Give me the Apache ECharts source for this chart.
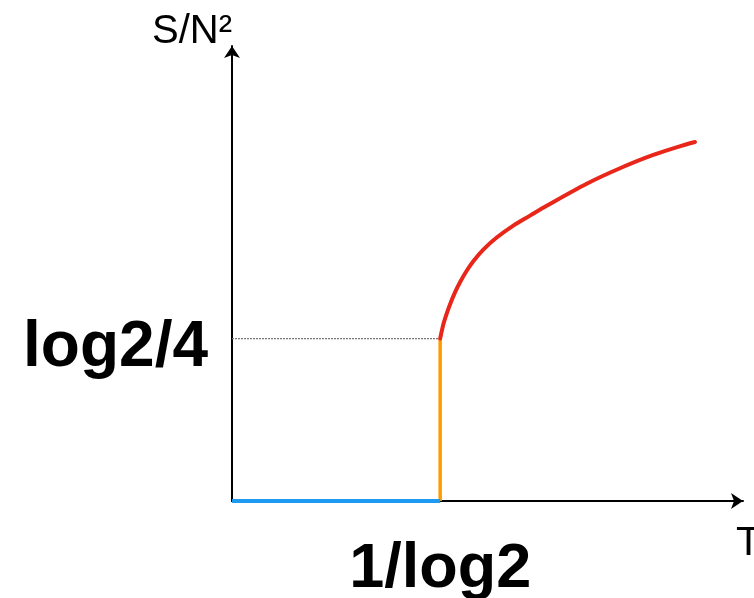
<!DOCTYPE html>
<html>
<head>
<meta charset="utf-8">
<script src="https://cdn.jsdelivr.net/npm/echarts@6/dist/echarts.min.js"></script>
<style>
  html, body { margin: 0; padding: 0; background: #fff; }
  #chart { width: 754px; height: 598px; }
</style>
</head>
<body>
<div id="chart"></div>
<script>
// Critical temperature and entropy plateau
const T_CRIT = 1 / Math.LN2;      // 1/log2
const S_CRIT = Math.LN2 / 4;      // log2/4

const X_MAX = 3.5416;
const Y_MAX = 0.48533;

// Low-temperature branch: S/N^2 = 0
const lowBranch = [[0, 0], [T_CRIT, 0]];
// Jump at the critical temperature
const jumpBranch = [[T_CRIT, 0], [T_CRIT, S_CRIT]];
// Guide line to the y axis
const guideLine = [[0, S_CRIT], [T_CRIT, S_CRIT]];
// High-temperature branch (T, S/N^2)
const highT = [T_CRIT, 1.4645, 1.4880, 1.5109, 1.5455, 1.5802, 1.6266, 1.6724, 1.7417,
               1.8345, 1.9496, 2.0653, 2.1811, 2.4583, 2.6891, 2.9199, 3.1514, 3.2089];
const highS = [S_CRIT, 0.1883, 0.1999, 0.2097, 0.2225, 0.2334, 0.2456, 0.2558, 0.2681,
               0.2810, 0.2938, 0.3044, 0.3149, 0.3384, 0.3549, 0.3691, 0.3805, 0.3829];
const highBranch = highT.map((t, i) => [t, highS[i]]);

const xTickLabels = ['1/log2'];
const yTickLabels = ['log2/4'];

const FONT = '"Liberation Sans", Arial, Helvetica, sans-serif';

const chart = echarts.init(document.getElementById('chart'), null, { renderer: 'canvas' });

chart.setOption({
  backgroundColor: '#ffffff',
  animation: false,
  grid: {
    left: 232, right: 11, top: 46, bottom: 97,
    containLabel: false,
    outerBoundsMode: 'none'
  },
  xAxis: {
    type: 'value',
    min: 0,
    max: X_MAX,
    name: 'T',
    nameLocation: 'end',
    nameGap: -7,
    nameTextStyle: {
      fontFamily: FONT, fontSize: 41, color: '#000',
      align: 'left', verticalAlign: 'top', padding: [22, 0, 0, 0]
    },
    axisLine: {
      show: true,
      lineStyle: { color: '#000', width: 2 },
      symbol: ['none', 'arrow'],
      symbolSize: [12, 12]
    },
    axisTick: { show: false },
    splitLine: { show: false },
    axisLabel: {
      customValues: [T_CRIT],
      formatter: () => xTickLabels[0],
      margin: 37,
      fontFamily: FONT, fontSize: 63, fontWeight: 'bold', color: '#000'
    }
  },
  yAxis: {
    type: 'value',
    min: 0,
    max: Y_MAX,
    name: 'S/N²',
    nameLocation: 'end',
    nameGap: 14,
    nameTextStyle: {
      fontFamily: FONT, fontSize: 40, color: '#000',
      align: 'right', verticalAlign: 'middle'
    },
    axisLine: {
      show: true,
      lineStyle: { color: '#000', width: 2 },
      symbol: ['none', 'arrow'],
      symbolSize: [12, 12]
    },
    axisTick: { show: false },
    splitLine: { show: false },
    axisLabel: {
      customValues: [S_CRIT],
      formatter: () => yTickLabels[0],
      margin: 24,
      verticalAlign: 'top',
      lineHeight: 20,
      fontFamily: FONT, fontSize: 64, fontWeight: 'bold', color: '#000'
    }
  },
  series: [
    {
      type: 'line', data: guideLine, symbol: 'none', silent: true,
      lineStyle: { color: '#777', width: 1.2, type: [2, 1] }, z: 1
    },
    {
      type: 'line', data: lowBranch, symbol: 'none', silent: true,
      lineStyle: { color: '#1e9bf0', width: 4 }, z: 3
    },
    {
      type: 'line', data: jumpBranch, symbol: 'none', silent: true,
      lineStyle: { color: '#ff9a00', width: 3.5 }, z: 2
    },
    {
      type: 'line', data: highBranch, symbol: 'none', silent: true,
      smooth: 0.3,
      lineStyle: { color: '#e8261a', width: 4, cap: 'round', join: 'round' }, z: 3
    }
  ]
});
</script>
</body>
</html>
